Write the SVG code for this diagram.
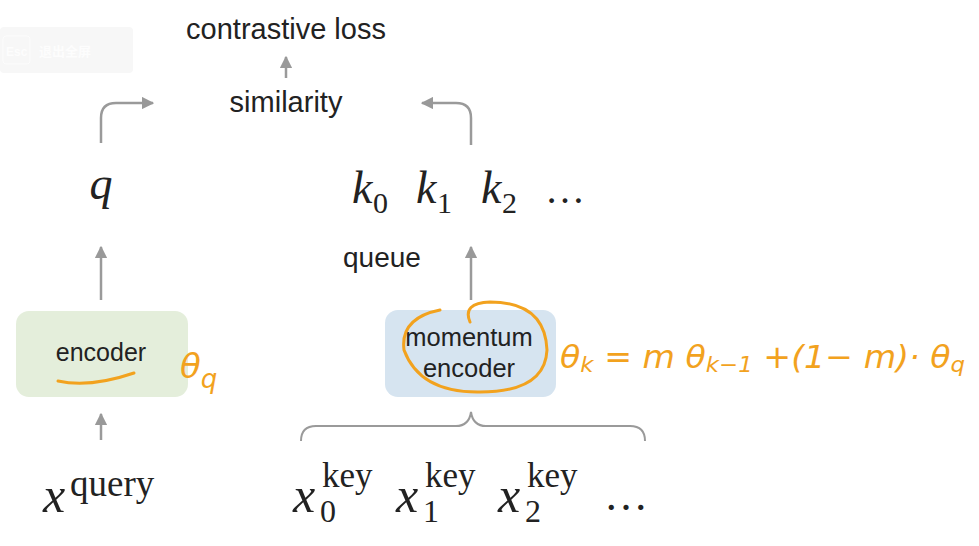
<svg xmlns="http://www.w3.org/2000/svg" width="979" height="546" viewBox="0 0 979 546">
<defs>
<marker id="ah" viewBox="0 0 10 10" refX="9" refY="5" markerWidth="5" markerHeight="5" orient="auto" markerUnits="strokeWidth">
<path d="M0,0 L10,5 L0,10 z" fill="#999"/>
</marker>
<style>
.lbl{font-family:"Liberation Sans",Arial,sans-serif;fill:#222;}
.math{font-family:"Liberation Serif","Times New Roman",serif;fill:#222;}
.it{font-style:italic;}
.edge{stroke:#9a9a9a;stroke-width:2.5;fill:none;}
.hand{stroke:#f2a21e;stroke-width:3;fill:none;stroke-linecap:round;stroke-linejoin:round;}
.htxt{font-family:"DejaVu Sans",sans-serif;fill:#f2a21e;font-style:italic;}
</style>
</defs>
<rect width="979" height="546" fill="#ffffff"/>

<g id="esc-overlay">
<rect x="0" y="27" width="133" height="46" rx="4" fill="#f7f7f7"/>
<rect x="3" y="36" width="27" height="28" rx="3" fill="none" stroke="#fcfcfc"/>
<text x="6" y="56" font-family="Liberation Sans,sans-serif" font-size="12" font-weight="bold" fill="#fdfdfd">Esc</text>
<text x="39" y="56" font-family="Noto Sans CJK SC,sans-serif" font-size="13" font-weight="bold" fill="#fdfdfd">退出全屏</text>
</g>

<g id="connectors">
<path class="edge" d="M286,78 L286,57" marker-end="url(#ah)"/>
<path class="edge" d="M101,143 L101,118 Q101,103 116,103 L153,103" marker-end="url(#ah)"/>
<path class="edge" d="M471,145 L471,118 Q471,103 456,103 L422,103" marker-end="url(#ah)"/>
<path class="edge" d="M101,300 L101,247" marker-end="url(#ah)"/>
<path class="edge" d="M471,300 L471,247" marker-end="url(#ah)"/>
<path class="edge" d="M101,440 L101,414" marker-end="url(#ah)"/>
<path d="M301,441 Q301,426 316,426 L456,426 Q469,426 471,412 Q473,426 486,426 L630,426 Q645,426 645,441" stroke="#9a9a9a" stroke-width="2" fill="none"/>
</g>

<g id="contrastive-loss">
<text class="lbl" x="286" y="39" font-size="29" text-anchor="middle">contrastive loss</text>
</g>
<g id="similarity">
<text class="lbl" x="286" y="112" font-size="29" text-anchor="middle">similarity</text>
</g>
<g id="q">
<text class="math it" x="101" y="199" font-size="46" text-anchor="middle">q</text>
</g>
<g id="keys">
<text class="math it" x="352" y="203" font-size="46">k</text>
<text class="math" x="373" y="213" font-size="30">0</text>
<text class="math it" x="416" y="203" font-size="46">k</text>
<text class="math" x="437" y="213" font-size="30">1</text>
<text class="math it" x="481" y="203" font-size="46">k</text>
<text class="math" x="502" y="213" font-size="30">2</text>
<text class="math" x="545" y="203" font-size="40">…</text>
</g>
<g id="queue">
<text class="lbl" x="343" y="267" font-size="28">queue</text>
</g>

<g id="encoder">
<rect x="16" y="311" width="172" height="86" rx="13" fill="#e4eedb"/>
<text class="lbl" x="101" y="361" font-size="25" text-anchor="middle">encoder</text>
</g>
<g id="momentum-encoder">
<rect x="385" y="310" width="171" height="87" rx="13" fill="#d6e4f0"/>
<text class="lbl" x="469" y="346" font-size="25.5" text-anchor="middle">momentum</text>
<text class="lbl" x="469" y="377" font-size="25.5" text-anchor="middle">encoder</text>
</g>

<g id="x-query">
<text class="math it" x="43" y="512" font-size="50">x</text>
<text class="math" x="70" y="496" font-size="37">query</text>
</g>
<g id="x-keys">
<text class="math it" x="293" y="512" font-size="50">x</text>
<text class="math" x="322" y="487" font-size="35">key</text>
<text class="math" x="320" y="522" font-size="32">0</text>
<text class="math it" x="396" y="512" font-size="50">x</text>
<text class="math" x="425" y="487" font-size="35">key</text>
<text class="math" x="423" y="522" font-size="32">1</text>
<text class="math it" x="498" y="512" font-size="50">x</text>
<text class="math" x="527" y="487" font-size="35">key</text>
<text class="math" x="525" y="522" font-size="32">2</text>
<text class="math" x="604" y="510" font-size="44">…</text>
</g>

<g id="annotations">
<path class="hand" d="M58,381 Q90,388 134,373"/>
<text class="htxt" x="180" y="378" font-size="34">θ<tspan font-size="26" dy="10">q</tspan></text>
<path class="hand" d="M470,322 Q462,303 490,302 Q545,302 547,350 Q545,392 480,392 Q420,393 404,350 Q400,318 440,310"/>
<text class="htxt" x="560" y="368" font-size="32" textLength="405" lengthAdjust="spacingAndGlyphs">θ<tspan font-size="22" dy="4">k</tspan><tspan dy="-4"> = m θ</tspan><tspan font-size="22" dy="4">k−1</tspan><tspan dy="-4"> +(1− m)· θ</tspan><tspan font-size="22" dy="4">q</tspan></text>
</g>
</svg>
